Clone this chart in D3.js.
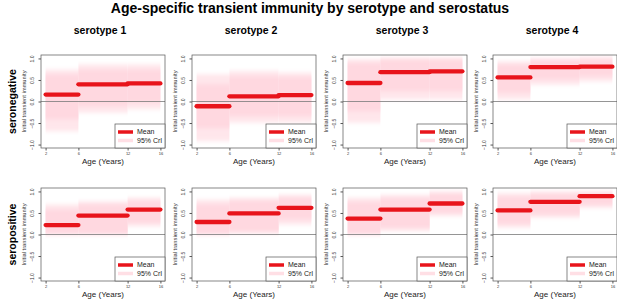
<!DOCTYPE html>
<html>
<head>
<meta charset="utf-8">
<script src="https://cdn.jsdelivr.net/npm/d3@7"></script>
<style>
  body { margin: 0; background: #fff; }
  text { font-family: "Liberation Sans", Arial, sans-serif; }
</style>
</head>
<body>
<div id="chart"></div>
<script>
// data
const ageBreaks = [2, 6, 12, 16];
const serotypes = ["serotype 1", "serotype 2", "serotype 3", "serotype 4"];
const statuses = ["seronegative", "seropositive"];
const yTicks = [-1, -0.5, 0, 0.5, 1];

// posterior mean per age group [2-6, 6-12, 12-16], one row per serotype
const meanNeg = [[0.16, 0.40, 0.42], [-0.11, 0.12, 0.15], [0.43, 0.68, 0.70], [0.56, 0.80, 0.81]];
const meanPos = [[0.22, 0.44, 0.58], [0.29, 0.49, 0.62], [0.37, 0.58, 0.72], [0.56, 0.76, 0.89]];

// 95% CrI (outer shading)
const lo95Neg = [[-0.69, -0.26, -0.18], [-0.92, -0.49, -0.49], [-0.49, 0.05, 0.05], [0.05, 0.39, 0.47]];
const hi95Neg = [[0.74, 0.86, 0.86], [0.63, 0.71, 0.67], [0.98, 1.02, 1.02], [0.93, 1.0, 1.04]];
const lo95Pos = [[0, 0, 0.19], [0, 0.02, 0.23], [0, 0.08, 0.43], [0.16, 0.39, 0.62]];
const hi95Pos = [[0.70, 0.77, 0.85], [0.81, 0.85, 0.92], [0.85, 0.92, 1.0], [0.96, 1.0, 1.0]];

// inner interval (darker shading)
const loInNeg = [[-0.42, -0.11, -0.03], [-0.62, -0.34, -0.34], [-0.23, 0.24, 0.24], [0.20, 0.51, 0.58]];
const hiInNeg = [[0.63, 0.74, 0.74], [0.40, 0.59, 0.57], [0.90, 0.98, 0.98], [0.86, 0.97, 0.98]];
const loInPos = [[0, 0, 0.27], [0, 0.06, 0.35], [0, 0.15, 0.50], [0.24, 0.46, 0.68]];
const hiInPos = [[0.58, 0.70, 0.79], [0.70, 0.79, 0.86], [0.76, 0.85, 0.95], [0.88, 0.95, 0.98]];

const width = 617, height = 300;
const panelLeft = [41, 192, 343, 493],  // left edge of each plot box
      rowTop = [55, 188],
      pw = 124, ph = 93;

const svg = d3.select("#chart").append("svg")
    .attr("width", width).attr("height", height)
    .attr("viewBox", [0, 0, width, height]);

// soft vertical edges for the shaded intervals
svg.append("defs").append("filter")
    .attr("id", "soft").attr("x", "-5%").attr("y", "-30%").attr("width", "110%").attr("height", "160%")
  .append("feGaussianBlur").attr("stdDeviation", "0 2.2");

// title
svg.append("text")
    .attr("x", 310).attr("y", 13)
    .attr("text-anchor", "middle")
    .style("font-size", "14px").style("font-weight", "bold")
    .text("Age-specific transient immunity by serotype and serostatus");

serotypes.forEach((s, i) => {
  svg.append("text")
      .attr("x", panelLeft[i] + pw / 2 - 3).attr("y", 34)
      .attr("text-anchor", "middle")
      .style("font-size", "10.5px").style("font-weight", "bold")
      .text(s);
});

statuses.forEach((s, r) => {
  svg.append("text")
      .attr("transform", `translate(16,${rowTop[r] + ph / 2}) rotate(-90)`)
      .attr("text-anchor", "middle")
      .style("font-size", "10.5px").style("font-weight", "bold")
      .text(s);
});

const x = d3.scaleLinear().domain([1.44, 16.56]).range([0, pw]);
const y = d3.scaleLinear().domain([-1.08, 1.08]).range([ph, 0]);

const tables = [
  {mean: meanNeg, lo95: lo95Neg, hi95: hi95Neg, loIn: loInNeg, hiIn: hiInNeg},
  {mean: meanPos, lo95: lo95Pos, hi95: hi95Pos, loIn: loInPos, hiIn: hiInPos}
];

tables.forEach((t, r) => {
  serotypes.forEach((s, i) => {
    const g = svg.append("g").attr("transform", `translate(${panelLeft[i]},${rowTop[r]})`);

    const segs = d3.range(3).map(k => ({
      a: ageBreaks[k], b: ageBreaks[k + 1],
      mean: t.mean[i][k], lo95: t.lo95[i][k], hi95: t.hi95[i][k],
      loIn: t.loIn[i][k], hiIn: t.hiIn[i][k]
    }));

    const clip = `clip${r}${i}`;
    g.append("clipPath").attr("id", clip)
      .append("rect").attr("width", pw).attr("height", ph);
    const inner = g.append("g").attr("clip-path", `url(#${clip})`)
      .append("g").attr("filter", "url(#soft)");

    // shading
    inner.selectAll(".b95").data(segs).join("rect")
        .attr("x", d => x(d.a)).attr("width", d => x(d.b) - x(d.a))
        .attr("y", d => y(d.hi95)).attr("height", d => y(d.lo95) - y(d.hi95))
        .attr("fill", "#ffe6eb");
    inner.selectAll(".bin").data(segs).join("rect")
        .attr("x", d => x(d.a)).attr("width", d => x(d.b) - x(d.a))
        .attr("y", d => y(d.hiIn)).attr("height", d => y(d.loIn) - y(d.hiIn))
        .attr("fill", "#ffd8e0");

    // zero line
    g.append("line")
        .attr("x1", 0).attr("x2", pw)
        .attr("y1", y(0)).attr("y2", y(0))
        .attr("stroke", "#7a7a7a").attr("stroke-width", 0.8);

    // means
    g.selectAll(".m").data(segs).join("line")
        .attr("x1", d => x(d.a)).attr("x2", d => x(d.b))
        .attr("y1", d => y(d.mean)).attr("y2", d => y(d.mean))
        .attr("stroke", "#e8141b").attr("stroke-width", 4.3)
        .attr("stroke-linecap", "round");

    // axes
    g.append("g")
        .attr("transform", `translate(0,${ph})`)
        .call(d3.axisBottom(x).tickValues(ageBreaks).tickSize(2.5).tickPadding(2))
        .call(a => a.select(".domain").remove())
        .call(a => a.selectAll("line").attr("stroke", "#555"))
        .call(a => a.selectAll("text").style("font-size", "4px").attr("fill", "#333"));

    const ya = g.append("g")
        .call(d3.axisLeft(y).tickValues(yTicks).tickSize(2.5).tickFormat(d3.format(".1f")))
        .call(a => a.select(".domain").remove())
        .call(a => a.selectAll("line").attr("stroke", "#555"));
    ya.selectAll("text")
        .attr("x", null).attr("dy", null)
        .attr("text-anchor", "middle")
        .attr("transform", "translate(-7,0) rotate(-90)")
        .style("font-size", "5px").attr("fill", "#333");

    g.append("text")
        .attr("transform", `translate(-15,${ph / 2}) rotate(-90)`)
        .attr("text-anchor", "middle")
        .style("font-size", "5.8px").attr("fill", "#333")
        .text("Initial transient immunity");

    g.append("text")
        .attr("x", pw / 2).attr("y", ph + 15.5)
        .attr("text-anchor", "middle")
        .style("font-size", "8px").attr("fill", "#222")
        .text("Age (Years)");

    // box
    g.append("rect")
        .attr("width", pw).attr("height", ph)
        .attr("fill", "none").attr("stroke", "#555").attr("stroke-width", 0.7);

    // legend
    const lg = g.append("g").attr("transform", `translate(${pw - 50},${ph - 24})`);
    lg.append("rect").attr("width", 50).attr("height", 24)
        .attr("fill", "#fff").attr("stroke", "#555").attr("stroke-width", 0.7);
    lg.append("line").attr("x1", 3).attr("x2", 18).attr("y1", 8).attr("y2", 8)
        .attr("stroke", "#e8141b").attr("stroke-width", 3.5);
    lg.append("line").attr("x1", 3).attr("x2", 18).attr("y1", 16.5).attr("y2", 16.5)
        .attr("stroke", "#ffdfe5").attr("stroke-width", 3.5);
    lg.append("text").attr("x", 22).attr("y", 10.3)
        .style("font-size", "7px").attr("fill", "#222").text("Mean");
    lg.append("text").attr("x", 22).attr("y", 19)
        .style("font-size", "7px").attr("fill", "#222").text("95% CrI");
  });
});
</script>
</body>
</html>
